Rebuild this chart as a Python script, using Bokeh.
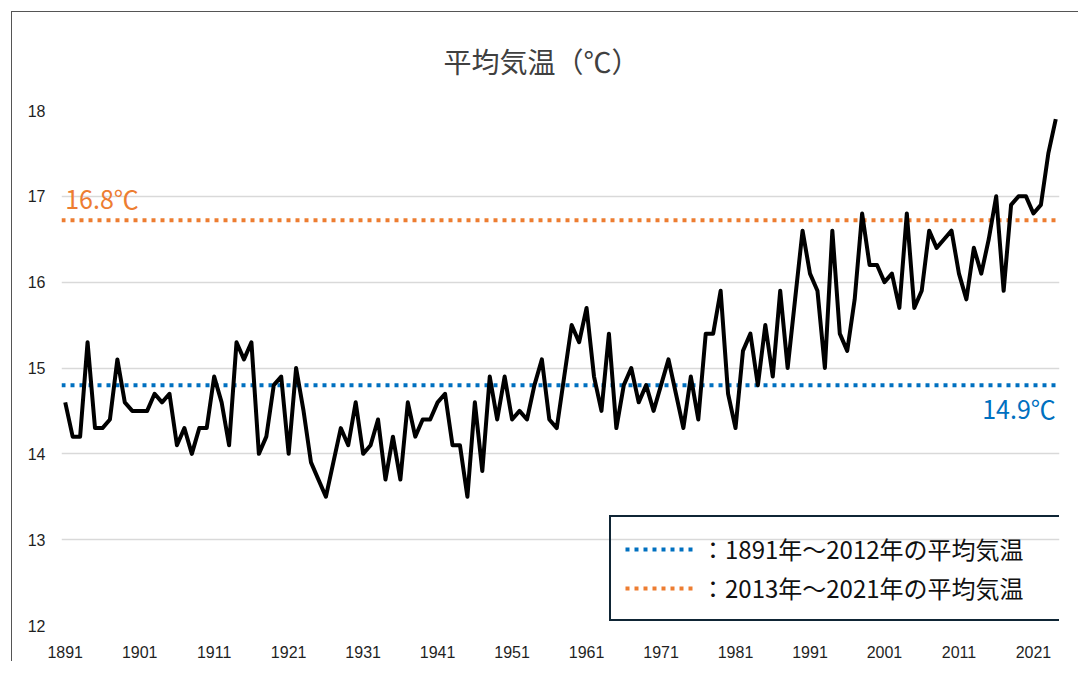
from bokeh.plotting import figure
from bokeh.models import Range1d, FixedTicker, Legend, LegendItem, Label
from bokeh.embed import file_html
from bokeh.resources import INLINE

# ---- data ----
years = list(range(1891, 2025))
temps = [
    14.6, 14.2, 14.2, 15.3, 14.3, 14.3, 14.4, 15.1, 14.6, 14.5,   # 1891-1900
    14.5, 14.5, 14.7, 14.6, 14.7, 14.1, 14.3, 14.0, 14.3, 14.3,   # 1901-1910
    14.9, 14.6, 14.1, 15.3, 15.1, 15.3, 14.0, 14.2, 14.8, 14.9,   # 1911-1920
    14.0, 15.0, 14.5, 13.9, 13.7, 13.5, 13.9, 14.3, 14.1, 14.6,   # 1921-1930
    14.0, 14.1, 14.4, 13.7, 14.2, 13.7, 14.6, 14.2, 14.4, 14.4,   # 1931-1940
    14.6, 14.7, 14.1, 14.1, 13.5, 14.6, 13.8, 14.9, 14.4, 14.9,   # 1941-1950
    14.4, 14.5, 14.4, 14.8, 15.1, 14.4, 14.3, 14.9, 15.5, 15.3,   # 1951-1960
    15.7, 14.9, 14.5, 15.4, 14.3, 14.8, 15.0, 14.6, 14.8, 14.5,   # 1961-1970
    14.8, 15.1, 14.7, 14.3, 14.9, 14.4, 15.4, 15.4, 15.9, 14.7,   # 1971-1980
    14.3, 15.2, 15.4, 14.8, 15.5, 14.9, 15.9, 15.0, 15.8, 16.6,   # 1981-1990
    16.1, 15.9, 15.0, 16.6, 15.4, 15.2, 15.8, 16.8, 16.2, 16.2,   # 1991-2000
    16.0, 16.1, 15.7, 16.8, 15.7, 15.9, 16.6, 16.4, 16.5, 16.6,   # 2001-2010
    16.1, 15.8, 16.4, 16.1, 16.5, 17.0, 15.9, 16.9, 17.0, 17.0,   # 2011-2020
    16.8, 16.9, 17.5, 17.9,                                       # 2021-2024
]
mean_1891_2012 = 14.8
mean_2013_2021 = 16.72
label_1891_2012 = "14.9℃"
label_2013_2021 = "16.8℃"
legend_labels = ["：1891年～2012年の平均気温", "：2013年～2021年の平均気温"]
x_ticks = [1891, 1901, 1911, 1921, 1931, 1941, 1951, 1961, 1971, 1981, 1991, 2001, 2011, 2021]
y_ticks = [12, 13, 14, 15, 16, 17, 18]
title_text = "平均気温（℃）"

BLUE = "#0070C0"
ORANGE = "#ED7D31"
CJK = "Noto Sans CJK JP"

x_lo, x_hi = years[0] - 0.5, years[-1] + 0.5

p = figure(
    width=1067, height=650,
    output_backend="svg", toolbar_location=None,
    x_range=Range1d(x_lo, x_hi),
    y_range=Range1d(y_ticks[0], y_ticks[-1]),
    min_border_left=49, min_border_right=20,
    min_border_top=98, min_border_bottom=37,
)
p.styles = {
    "margin-left": "11px", "margin-top": "11px",
    "border-left": "1px solid #555555", "border-top": "1px solid #555555",
}
p.outline_line_color = None
p.background_fill_color = "white"
p.border_fill_color = "white"

# title
p.title.text = title_text
p.title.align = "left"
p.title.offset = 382
p.title.vertical_align = "top"
p.title.text_font = CJK
p.title.text_font_size = "28px"
p.title.text_font_style = "normal"
p.title.text_color = "#404040"
p.title.standoff = 56

# axes
for ax in (p.xaxis[0], p.yaxis[0]):
    ax.axis_line_color = None
    ax.major_tick_line_color = None
    ax.minor_tick_line_color = None
    ax.major_label_text_font = "Liberation Sans"
    ax.major_label_text_color = "#1f1f1f"
p.xaxis[0].ticker = FixedTicker(ticks=x_ticks)
p.xaxis[0].major_label_text_font_size = "16px"
p.xaxis[0].major_label_standoff = 14
p.yaxis[0].ticker = FixedTicker(ticks=y_ticks)
p.yaxis[0].major_label_text_font_size = "16px"
p.yaxis[0].major_label_standoff = 10

p.xgrid.grid_line_color = None
p.ygrid.grid_line_color = "#d9d9d9"
p.ygrid.grid_line_width = 1.5

# average lines
x_span = [x_lo, x_hi]
r_blue = p.line(x_span, [mean_1891_2012] * 2, line_color=BLUE, line_width=4,
                line_dash="4 5", line_cap="butt")
r_orange = p.line(x_span, [mean_2013_2021] * 2, line_color=ORANGE, line_width=4,
                  line_dash="4 5", line_cap="butt")

# temperature series
p.line(years, temps, line_color="black", line_width=4, line_join="round")

# value labels
p.add_layout(Label(x=years[0], y=mean_2013_2021, text=label_2013_2021,
                   text_color=ORANGE, text_font=CJK, text_font_size="25px",
                   text_align="left", text_baseline="bottom", y_offset=4, x_offset=0))
p.add_layout(Label(x=years[-1], y=mean_1891_2012, text=label_1891_2012,
                   text_color=BLUE, text_font=CJK, text_font_size="25px",
                   text_align="right", text_baseline="top", y_offset=-5))

legend = Legend(
    items=[LegendItem(label=legend_labels[0], renderers=[r_blue]),
           LegendItem(label=legend_labels[1], renderers=[r_orange])],
    location=(548, 4),
    label_text_font=CJK, label_text_font_size="24px", label_text_color="#111111",
    glyph_width=70, glyph_height=20, label_standoff=6, label_width=347,
    padding=14, spacing=4, margin=0,
    border_line_color="#0f2535", border_line_width=2.5, border_line_alpha=1.0,
    background_fill_alpha=0,
)
p.add_layout(legend)

open("out.html", "w").write(file_html(p, INLINE))
